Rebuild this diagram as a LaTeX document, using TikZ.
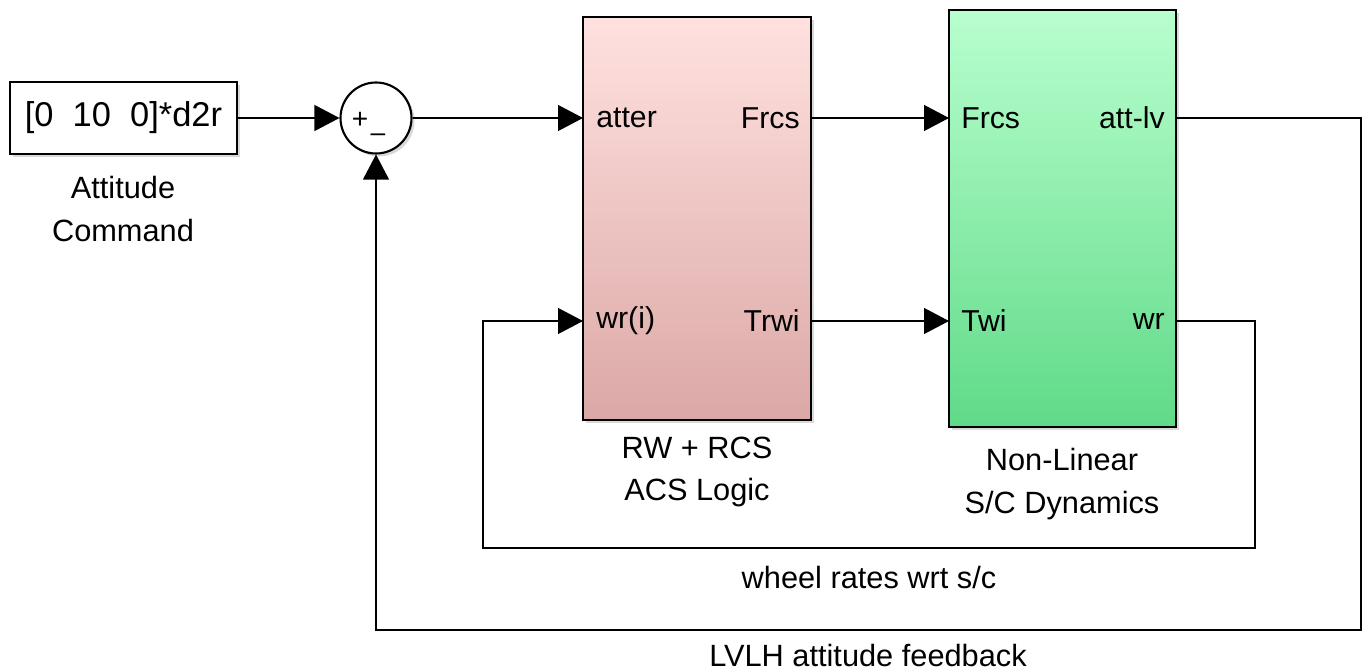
\documentclass[tikz,border=0pt]{standalone}
\usepackage{fontspec}
\setmainfont{Liberation Sans}
\usepackage{xcolor}
\usetikzlibrary{arrows.meta,positioning,shadows}

\definecolor{rwtop}{HTML}{FFE1DF}
\definecolor{rwbot}{HTML}{DBA8A6}
\definecolor{dyntop}{HTML}{B8FFCE}
\definecolor{dynbot}{HTML}{60DA88}

\begin{document}
\begin{tikzpicture}[y=-0.02cm,x=0.02cm,
	sig/.style={line width=0.7pt,-{Triangle[length=0.5cm,width=0.52cm]}},
	blk/.style={draw,line width=1.2pt,inner sep=0pt,
		drop shadow={shadow xshift=0.6mm,shadow yshift=-0.6mm,opacity=0.3}},
	txt/.style={font=\fontsize{17.5}{24.4}\selectfont,align=center,inner sep=0pt},
	port/.style={font=\fontsize{17.2}{20}\selectfont,inner sep=0pt}]
	\useasboundingbox (0,0) rectangle (1363,672);

	% command and sum
	\node[blk,fill=white,minimum width=4.54cm,minimum height=1.44cm,
		font=\fontsize{19.6}{22}\selectfont] (cmd) at (123.5,118) {[0\ \ 10\ \ 0]*d2r};
	\node[txt] (cmdlbl) at (123,209) {Attitude\\Command};
	\node[blk,circle,fill=white,minimum size=1.42cm] (sum) at (376,118) {};
	\node[font=\fontsize{16}{16}\selectfont,inner sep=0pt] (plus) at (360,120) {+};
	\node[font=\fontsize{15}{15}\selectfont,inner sep=0pt] (minus) at (378,138) {--};

	% RW + RCS block
	\node[blk,top color=rwtop,bottom color=rwbot,minimum width=4.56cm,minimum height=8.06cm] (rw) at (697,218.5) {};
	\node[txt] (rwlbl) at (697,472) {RW + RCS\\ACS Logic};
	\node[port,anchor=west] (atter) at (596,118) {atter};
	\node[port,anchor=west] (wri) at (596,321) {wr(i)};
	\node[port,anchor=east] (frcsout) at (800,118) {Frcs};
	\node[port,anchor=east] (trwi) at (800,321) {Trwi};
	\coordinate (rwin1) at (583,118);
	\coordinate (rwin2) at (583,321);
	\coordinate (rwout1) at (811,118);
	\coordinate (rwout2) at (811,321);

	% dynamics block
	\node[blk,top color=dyntop,bottom color=dynbot,minimum width=4.54cm,minimum height=8.34cm] (dyn) at (1062.5,218.5) {};
	\node[txt] (dynlbl) at (1062,484) {Non-Linear\\S/C Dynamics};
	\node[port,anchor=west] (frcsin) at (961,118) {Frcs};
	\node[port,anchor=west] (twi) at (961,321) {Twi};
	\node[port,anchor=east] (attlv) at (1165,118) {att-lv};
	\node[port,anchor=east] (wr) at (1165,321) {wr};
	\coordinate (dynin1) at (949,118);
	\coordinate (dynin2) at (949,321);
	\coordinate (dynout1) at (1176,118);
	\coordinate (dynout2) at (1176,321);

	% feedback corners
	\coordinate (wrturn) at (1255,548);
	\coordinate (wrback) at (483,548);
	\coordinate (fbturn) at (1361,630);

	\draw[sig] (cmd.east) -- (sum.west);
	\draw[sig] (sum.east) -- (rwin1);
	\draw[sig] (rwout1) -- (dynin1);
	\draw[sig] (rwout2) -- (dynin2);
	\draw[sig] (dynout2) -| (wrturn) -- (wrback) |- (rwin2);
	\draw[sig] (dynout1) -| (fbturn) -| (sum.south);

	\node[txt] (wrlbl) at (869,578) {wheel rates wrt s/c};
	\node[txt] (fblbl) at (868,656) {LVLH attitude feedback};
\end{tikzpicture}
\end{document}
